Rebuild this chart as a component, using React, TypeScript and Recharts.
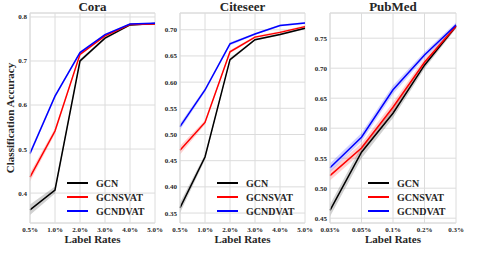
import React from "react";
import {
  ComposedChart,
  Line,
  Area,
  XAxis,
  YAxis,
  CartesianGrid,
  Legend,
  ReferenceLine,
} from "recharts";

// Cora
const coraRates = ["0.5%", "1.0%", "2.0%", "3.0%", "4.0%", "5.0%"];
const coraGCN = [0.362, 0.407, 0.7, 0.752, 0.782, 0.785];
const coraGCNErr = [0.012, 0.008, 0.004, 0.003, 0.002, 0.002];
const coraSVAT = [0.436, 0.541, 0.715, 0.757, 0.783, 0.784];
const coraSVATErr = [0.01, 0.006, 0.003, 0.002, 0.002, 0.002];
const coraDVAT = [0.49, 0.62, 0.719, 0.76, 0.784, 0.786];
const coraDVATErr = [0.006, 0.004, 0.003, 0.002, 0.002, 0.002];
const coraTicks = [0.4, 0.5, 0.6, 0.7, 0.8];

// Citeseer
const citeRates = ["0.5%", "1.0%", "2.0%", "3.0%", "4.0%", "5.0%"];
const citeGCN = [0.36, 0.457, 0.643, 0.681, 0.691, 0.703];
const citeGCNErr = [0.01, 0.005, 0.003, 0.002, 0.002, 0.002];
const citeSVAT = [0.47, 0.523, 0.658, 0.686, 0.695, 0.706];
const citeSVATErr = [0.008, 0.004, 0.003, 0.002, 0.002, 0.002];
const citeDVAT = [0.515, 0.585, 0.673, 0.692, 0.708, 0.713];
const citeDVATErr = [0.006, 0.004, 0.003, 0.002, 0.002, 0.002];
const citeTicks = [0.35, 0.4, 0.45, 0.5, 0.55, 0.6, 0.65, 0.7];

// PubMed
const pubRates = ["0.03%", "0.05%", "0.1%", "0.2%", "0.3%"];
const pubGCN = [0.463, 0.56, 0.625, 0.705, 0.77];
const pubGCNErr = [0.01, 0.01, 0.008, 0.006, 0.004];
const pubSVAT = [0.521, 0.567, 0.635, 0.71, 0.77];
const pubSVATErr = [0.008, 0.008, 0.008, 0.006, 0.004];
const pubDVAT = [0.534, 0.585, 0.664, 0.722, 0.772];
const pubDVATErr = [0.007, 0.007, 0.007, 0.005, 0.004];
const pubTicks = [0.45, 0.5, 0.55, 0.6, 0.65, 0.7, 0.75];

const FONT = '"Liberation Serif", "Times New Roman", serif';
const GRID = "#dcdcdc";
const TEXT = "#262626";

const seriesStyle = [
  { key: "gcn", name: "GCN", color: "#000000" },
  { key: "svat", name: "GCNSVAT", color: "#ff0000" },
  { key: "dvat", name: "GCNDVAT", color: "#0000ff" },
];

function buildRows(rates: string[], vals: number[][], errs: number[][]) {
  return rates.map((rate, i) => {
    const row: Record<string, unknown> = { rate };
    seriesStyle.forEach((s, k) => {
      row[s.key] = vals[k][i];
      row[s.key + "Band"] = [vals[k][i] - errs[k][i], vals[k][i] + errs[k][i]];
    });
    return row;
  });
}

// legend drawn in the lower right of each panel, matplotlib style
function PanelLegend() {
  return (
    <svg width={92} height={44} style={{ display: "block" }}>
      {seriesStyle.map((s, i) => (
        <g key={s.key}>
          <line
            x1={0}
            x2={21}
            y1={7 + i * 14}
            y2={7 + i * 14}
            stroke={s.color}
            strokeWidth={2}
          />
          <text
            x={29}
            y={7 + i * 14}
            dy="0.35em"
            fontSize={10}
            fontWeight="bold"
            fill={TEXT}
            fontFamily={FONT}
          >
            {s.name}
          </text>
        </g>
      ))}
    </svg>
  );
}

interface PanelProps {
  title: string;
  data: Record<string, unknown>[];
  left: number;
  width: number;
  yWidth: number;
  rightMargin: number;
  domain: [number, number];
  ticks: number[];
  decimals: number;
  yLabel?: string;
}

function Panel({
  title,
  data,
  left,
  width,
  yWidth,
  rightMargin,
  domain,
  ticks,
  decimals,
  yLabel,
}: PanelProps) {
  const plotRight = width - rightMargin;
  const tickStyle = { fontSize: 7, fontWeight: "bold", fill: TEXT, fontFamily: FONT };
  return (
    <div style={{ position: "absolute", left, top: 0, width, height: 255 }}>
      <div
        style={{
          position: "absolute",
          left: yWidth,
          width: plotRight - yWidth,
          top: 0,
          textAlign: "center",
          fontSize: 13,
          lineHeight: "13px",
          fontWeight: "bold",
          color: TEXT,
          fontFamily: FONT,
        }}
      >
        {title}
      </div>
      <ComposedChart
        width={width}
        height={255}
        data={data}
        margin={{ top: 13, right: rightMargin, left: 0, bottom: 0 }}
      >
        <CartesianGrid stroke={GRID} strokeWidth={1} />
        <XAxis
          dataKey="rate"
          scale="point"
          interval={0}
          height={32}
          tick={tickStyle}
          tickLine={false}
          tickSize={0}
          tickMargin={4}
          axisLine={{ stroke: GRID }}
          label={{
            value: "Label Rates",
            position: "insideBottom",
            offset: 12,
            style: { fontSize: 11, fontWeight: "bold", fill: TEXT, fontFamily: FONT },
          }}
        />
        <YAxis
          width={yWidth}
          domain={domain}
          allowDataOverflow
          ticks={ticks}
          tickFormatter={(v: number) => v.toFixed(decimals)}
          tick={tickStyle}
          tickLine={false}
          tickSize={0}
          tickMargin={3}
          axisLine={{ stroke: GRID }}
          label={
            yLabel
              ? {
                  value: yLabel,
                  angle: -90,
                  position: "insideLeft",
                  offset: 10,
                  style: {
                    textAnchor: "middle",
                    fontSize: 11,
                    fontWeight: "bold",
                    fill: TEXT,
                    fontFamily: FONT,
                  },
                }
              : undefined
          }
        />
        <ReferenceLine y={domain[1]} stroke={GRID} strokeWidth={1} />
        {seriesStyle.map((s) => (
          <Area
            key={s.key + "Band"}
            dataKey={s.key + "Band"}
            type="linear"
            stroke="none"
            fill={s.color}
            fillOpacity={0.18}
            isAnimationActive={false}
            activeDot={false}
          />
        ))}
        {seriesStyle.map((s) => (
          <Line
            key={s.key}
            dataKey={s.key}
            name={s.name}
            type="linear"
            stroke={s.color}
            strokeWidth={1.5}
            dot={false}
            activeDot={false}
            isAnimationActive={false}
          />
        ))}
        <Legend
          layout="horizontal"
          verticalAlign="middle"
          align="center"
          wrapperStyle={{ left: plotRight - 88, top: 176, width: 92, height: 44 }}
          content={() => <PanelLegend />}
        />
      </ComposedChart>
    </div>
  );
}

export default function App() {
  const cora = buildRows(
    coraRates,
    [coraGCN, coraSVAT, coraDVAT],
    [coraGCNErr, coraSVATErr, coraDVATErr]
  );
  const cite = buildRows(
    citeRates,
    [citeGCN, citeSVAT, citeDVAT],
    [citeGCNErr, citeSVATErr, citeDVATErr]
  );
  const pub = buildRows(
    pubRates,
    [pubGCN, pubSVAT, pubDVAT],
    [pubGCNErr, pubSVATErr, pubDVATErr]
  );

  return (
    <div
      style={{
        position: "absolute",
        left: 0,
        top: 0,
        width: 479,
        height: 255,
        background: "#fff",
        fontFamily: FONT,
      }}
    >
      <Panel
        title="Cora"
        data={cora}
        left={0}
        width={165}
        yWidth={30}
        rightMargin={10}
        domain={[0.332, 0.809]}
        ticks={coraTicks}
        decimals={1}
        yLabel="Classification Accuracy"
      />
      <Panel
        title="Citeseer"
        data={cite}
        left={158}
        width={157}
        yWidth={22}
        rightMargin={10}
        domain={[0.331, 0.732]}
        ticks={citeTicks}
        decimals={2}
      />
      <Panel
        title="PubMed"
        data={pub}
        left={313}
        width={166}
        yWidth={17}
        rightMargin={23}
        domain={[0.442, 0.792]}
        ticks={pubTicks}
        decimals={2}
      />
    </div>
  );
}
